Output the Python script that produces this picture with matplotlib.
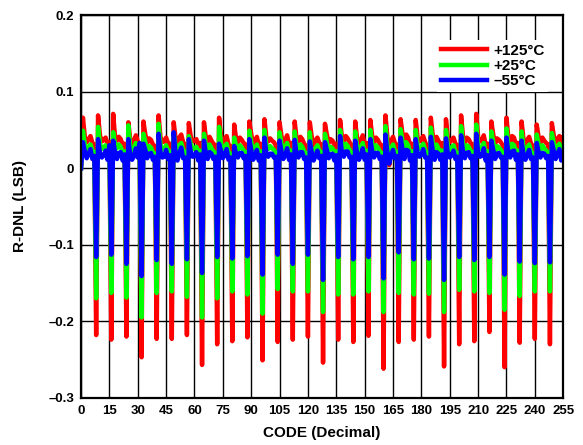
import numpy as np
from matplotlib import pyplot as plt

plt.rcParams["font.family"] = ["Liberation Sans", "DejaVu Sans"]
plt.rcParams["font.weight"] = "bold"

# R-DNL per code, one row = 8 codes (first entry of each row is the major-carry code)
red_rows = [
    [0.000, 0.066, 0.041, 0.034, 0.038, 0.042, 0.033, 0.031],
    [-0.218, 0.069, 0.043, 0.035, 0.037, 0.040, 0.032, 0.034],
    [-0.224, 0.071, 0.040, 0.036, 0.041, 0.038, 0.030, 0.032],
    [-0.220, 0.060, 0.038, 0.031, 0.036, 0.043, 0.035, 0.030],
    [-0.247, 0.061, 0.044, 0.033, 0.039, 0.037, 0.031, 0.029],
    [-0.223, 0.069, 0.041, 0.034, 0.035, 0.040, 0.033, 0.032],
    [-0.223, 0.060, 0.039, 0.030, 0.040, 0.044, 0.034, 0.031],
    [-0.218, 0.059, 0.042, 0.035, 0.036, 0.038, 0.030, 0.033],
    [-0.257, 0.060, 0.040, 0.032, 0.041, 0.036, 0.032, 0.030],
    [-0.230, 0.066, 0.043, 0.033, 0.037, 0.042, 0.031, 0.029],
    [-0.226, 0.057, 0.039, 0.034, 0.040, 0.037, 0.033, 0.031],
    [-0.221, 0.061, 0.045, 0.031, 0.036, 0.041, 0.030, 0.032],
    [-0.251, 0.064, 0.040, 0.035, 0.039, 0.036, 0.034, 0.030],
    [-0.227, 0.060, 0.042, 0.032, 0.037, 0.043, 0.031, 0.033],
    [-0.224, 0.061, 0.038, 0.034, 0.041, 0.038, 0.032, 0.029],
    [-0.220, 0.060, 0.041, 0.030, 0.036, 0.040, 0.033, 0.031],
    [-0.254, 0.058, 0.044, 0.033, 0.038, 0.036, 0.030, 0.032],
    [-0.224, 0.063, 0.040, 0.035, 0.042, 0.039, 0.034, 0.030],
    [-0.227, 0.061, 0.039, 0.031, 0.037, 0.043, 0.031, 0.033],
    [-0.219, 0.063, 0.042, 0.034, 0.040, 0.037, 0.032, 0.030],
    [-0.262, 0.069, 0.041, 0.004, 0.036, 0.041, 0.033, 0.031],
    [-0.227, 0.064, 0.045, 0.032, 0.044, 0.040, 0.030, 0.032],
    [-0.224, 0.063, 0.040, 0.035, 0.038, 0.042, 0.034, 0.029],
    [-0.220, 0.066, 0.043, 0.031, 0.041, 0.036, 0.031, 0.033],
    [-0.259, 0.064, 0.039, 0.034, 0.037, 0.040, 0.032, 0.030],
    [-0.230, 0.069, 0.042, 0.033, 0.040, 0.038, 0.033, 0.031],
    [-0.226, 0.071, 0.041, 0.035, 0.036, 0.043, 0.030, 0.032],
    [-0.214, 0.061, 0.044, 0.032, 0.039, 0.037, 0.034, 0.030],
    [-0.260, 0.066, 0.040, 0.034, 0.042, 0.040, 0.031, 0.033],
    [-0.228, 0.061, 0.038, 0.031, 0.037, 0.041, 0.032, 0.029],
    [-0.223, 0.057, 0.041, 0.034, 0.040, 0.036, 0.033, 0.031],
    [-0.230, 0.059, 0.043, 0.032, 0.038, 0.042, 0.030, 0.040],
]

green_rows = [
    [0.000, 0.049, 0.031, 0.024, 0.028, 0.031, 0.023, 0.021],
    [-0.170, 0.054, 0.032, 0.025, 0.027, 0.030, 0.022, 0.024],
    [-0.163, 0.047, 0.030, 0.026, 0.031, 0.028, 0.020, 0.022],
    [-0.169, 0.056, 0.028, 0.021, 0.026, 0.033, 0.025, 0.020],
    [-0.195, 0.045, 0.034, 0.023, 0.029, 0.027, 0.021, 0.019],
    [-0.163, 0.058, 0.031, 0.024, 0.025, 0.030, 0.023, 0.022],
    [-0.161, 0.046, 0.029, 0.020, 0.030, 0.033, 0.024, 0.021],
    [-0.168, 0.042, 0.032, 0.025, 0.026, 0.028, 0.020, 0.023],
    [-0.195, 0.045, 0.030, 0.022, 0.031, 0.026, 0.022, 0.020],
    [-0.170, 0.054, 0.033, 0.023, 0.027, 0.032, 0.021, 0.019],
    [-0.161, 0.040, 0.029, 0.024, 0.030, 0.027, 0.023, 0.021],
    [-0.165, 0.049, 0.034, 0.021, 0.026, 0.031, 0.020, 0.022],
    [-0.190, 0.050, 0.030, 0.025, 0.029, 0.026, 0.024, 0.020],
    [-0.158, 0.047, 0.032, 0.022, 0.027, 0.033, 0.021, 0.023],
    [-0.161, 0.048, 0.028, 0.024, 0.031, 0.028, 0.022, 0.019],
    [-0.161, 0.047, 0.012, 0.020, 0.026, 0.030, 0.023, 0.021],
    [-0.188, 0.045, 0.034, 0.023, 0.028, 0.026, 0.020, 0.022],
    [-0.165, 0.050, 0.030, 0.025, 0.032, 0.029, 0.024, 0.020],
    [-0.165, 0.048, 0.029, 0.021, 0.027, 0.033, 0.021, 0.023],
    [-0.161, 0.050, 0.032, 0.024, 0.030, 0.027, 0.022, 0.020],
    [-0.188, 0.055, 0.031, 0.010, 0.026, 0.031, 0.023, 0.021],
    [-0.163, 0.051, 0.035, 0.022, 0.034, 0.030, 0.020, 0.022],
    [-0.165, 0.050, 0.030, 0.025, 0.028, 0.032, 0.024, 0.019],
    [-0.164, 0.053, 0.033, 0.021, 0.031, 0.026, 0.021, 0.023],
    [-0.188, 0.050, 0.029, 0.024, 0.027, 0.030, 0.022, 0.020],
    [-0.159, 0.055, 0.032, 0.023, 0.030, 0.028, 0.023, 0.021],
    [-0.161, 0.057, 0.031, 0.025, 0.026, 0.033, 0.020, 0.022],
    [-0.163, 0.048, 0.034, 0.022, 0.029, 0.027, 0.024, 0.020],
    [-0.185, 0.052, 0.030, 0.024, 0.032, 0.030, 0.021, 0.023],
    [-0.167, 0.048, 0.028, 0.021, 0.027, 0.031, 0.022, 0.019],
    [-0.161, 0.044, 0.031, 0.024, 0.030, 0.026, 0.023, 0.021],
    [-0.161, 0.046, 0.033, 0.022, 0.028, 0.032, 0.020, 0.028],
]

blue_rows = [
    [0.000, 0.034, 0.022, 0.013, 0.019, 0.025, 0.012, 0.016],
    [-0.116, 0.038, 0.020, 0.014, 0.017, 0.023, 0.011, 0.030],
    [-0.113, 0.036, 0.021, 0.012, 0.020, 0.021, 0.010, 0.018],
    [-0.125, 0.038, 0.018, 0.011, 0.016, 0.026, 0.014, 0.033],
    [-0.141, 0.032, 0.024, 0.013, 0.019, 0.020, 0.011, 0.015],
    [-0.120, 0.045, 0.021, 0.014, 0.015, 0.024, 0.012, 0.017],
    [-0.125, 0.047, 0.019, 0.010, 0.020, 0.027, 0.013, 0.014],
    [-0.119, 0.038, 0.022, 0.015, 0.016, 0.021, 0.010, 0.018],
    [-0.137, 0.036, 0.020, 0.012, 0.021, 0.019, 0.012, 0.015],
    [-0.116, 0.032, 0.023, 0.013, 0.017, 0.025, 0.011, 0.014],
    [-0.118, 0.029, 0.019, 0.014, 0.020, 0.020, 0.013, 0.016],
    [-0.115, 0.038, 0.024, 0.011, 0.016, 0.024, 0.010, 0.017],
    [-0.139, 0.040, 0.020, 0.015, 0.019, 0.019, 0.014, 0.015],
    [-0.113, 0.036, 0.022, 0.012, 0.017, 0.026, 0.011, 0.018],
    [-0.125, 0.037, 0.018, 0.014, 0.021, 0.021, 0.012, 0.014],
    [-0.113, 0.035, 0.021, 0.010, 0.016, 0.023, 0.013, 0.016],
    [-0.146, 0.034, 0.024, 0.013, 0.018, 0.019, 0.010, 0.017],
    [-0.116, 0.042, 0.020, 0.015, 0.022, 0.022, 0.014, 0.015],
    [-0.119, 0.036, 0.019, 0.011, 0.017, 0.026, 0.011, 0.018],
    [-0.116, 0.038, 0.022, 0.014, 0.020, 0.020, 0.012, 0.015],
    [-0.144, 0.044, 0.021, 0.006, 0.016, 0.024, 0.013, 0.016],
    [-0.110, 0.040, 0.025, 0.012, 0.024, 0.023, 0.010, 0.017],
    [-0.119, 0.038, 0.020, 0.015, 0.018, 0.025, 0.014, 0.014],
    [-0.118, 0.041, 0.023, 0.011, 0.021, 0.019, 0.011, 0.018],
    [-0.146, 0.039, 0.019, 0.014, 0.017, 0.023, 0.012, 0.015],
    [-0.116, 0.043, 0.022, 0.013, 0.020, 0.021, 0.013, 0.016],
    [-0.120, 0.045, 0.021, 0.015, 0.016, 0.026, 0.010, 0.017],
    [-0.116, 0.036, 0.024, 0.012, 0.019, 0.020, 0.014, 0.015],
    [-0.139, 0.040, 0.020, 0.014, 0.022, 0.023, 0.011, 0.018],
    [-0.122, 0.036, 0.018, 0.011, 0.017, 0.024, 0.012, 0.014],
    [-0.124, 0.033, 0.021, 0.014, 0.020, 0.019, 0.013, 0.016],
    [-0.123, 0.034, 0.023, 0.012, 0.018, 0.025, 0.010, 0.015],
]

labels = ["+125°C", "+25°C", "\u201355°C"]
colors = ["#ff0000", "#00ff00", "#0000ff"]
x_ticks = list(range(0, 256, 15))
y_ticks = [0.2, 0.1, 0, -0.1, -0.2, -0.3]
y_ticklabels = ["0.2", "0.1", "0", "\u20130.1", "\u20130.2", "\u20130.3"]

codes = np.arange(256)

fig = plt.figure(figsize=(5.83, 4.45), dpi=100)
ax = fig.add_axes([0.139, 0.106, 0.827, 0.86])

for rows, lab, col in zip([red_rows, green_rows, blue_rows], labels, colors):
    ax.plot(codes, np.concatenate(rows), color=col, lw=3.2, label=lab)

ax.set_xlim(0, 255)
ax.set_ylim(-0.3, 0.2)
ax.set_xticks(x_ticks)
ax.set_yticks(y_ticks)
ax.set_yticklabels(y_ticklabels)
ax.set_axisbelow(True)
ax.grid(True, color="black", lw=1.0)
ax.tick_params(length=0, labelsize=9.5, pad=5)
for s in ax.spines.values():
    s.set_linewidth(1.6)

ax.set_xlabel("CODE (Decimal)", fontsize=11, fontweight="bold", labelpad=7)
ax.set_ylabel("R-DNL (LSB)", fontsize=11, fontweight="bold", labelpad=15)

leg = ax.legend(loc="upper right", bbox_to_anchor=(0.985, 0.955), fontsize=11,
                handlelength=3.0, handletextpad=0.4, labelspacing=0.08,
                borderpad=0.25, frameon=True, fancybox=False)
leg.get_frame().set_edgecolor("none")
leg.get_frame().set_facecolor("white")
leg.get_frame().set_alpha(1)

plt.savefig("out.png", dpi=100)
